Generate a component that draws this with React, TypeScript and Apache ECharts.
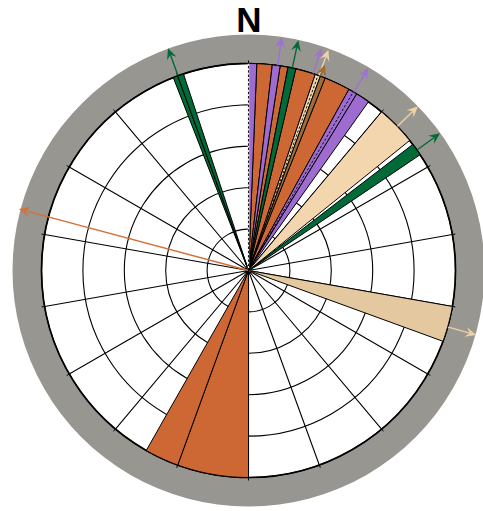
import React, { useEffect, useRef } from 'react';
import * as echarts from 'echarts';

// ---- data (bearings in degrees, clockwise from N) ----
const radiusMax = 5; // rings 1..5
const spokeStep = 20;

const orangeWedges = [[2.3, 6.6], [8.8, 11.0], [13.2, 18.8], [21.7, 29.0], [180, 200], [200, 209.6]];
const purpleWedges = [[0, 2.3], [6.6, 8.8], [29.0, 31.5], [31.5, 35.4]];
const greenWedges = [[11.0, 13.2], [52.5, 56.0], [338.7, 340], [340, 341.7]];
const lightTanWedges = [[18.8, 20.3], [40, 51.1]];
const brownWedges = [[20.3, 21.7]];
const wheatWedges = [[100, 110]];

const dashedDirs = [0, 19.6, 30.4];

const arrowDirs = [285, 8.1, 18.2, 30.6, 340.1, 12.2, 54.4, 19.9, 45.9, 105.8, 20.4];
const arrowLens = [5.74, 5.7, 5.66, 5.68, 5.71, 5.69, 5.69, 5.67, 5.7, 5.72, 5.3];
const arrowSets = ['orange', 'purple', 'purple', 'purple', 'green', 'green', 'green', 'lightTan', 'lightTan', 'wheat', 'brown'];

// ---- styles ----
const palette: Record<string, string> = {
  orange: '#CD6834',
  purple: '#9E6CD0',
  green: '#006B38',
  lightTan: '#F3D6AE',
  brown: '#A06C38',
  wheat: '#E4C89F',
};
const arrowPalette: Record<string, string> = {
  orange: '#D4703C',
  purple: '#9E72D2',
  green: '#006B38',
  lightTan: '#F0D2A6',
  brown: '#A06A34',
  wheat: '#EAD0A8',
};

const CX = 248.5;
const CY = 270.5;
const R = 207;

const wedgeRender = (params: any, api: any) => {
  const r = api.value(0);
  const a0 = api.value(1);
  const a1 = api.value(2);
  const c = api.coord([0, a0]);
  const pts: number[][] = [c];
  const n = Math.max(2, Math.ceil((a1 - a0) / 0.4));
  for (let i = 0; i <= n; i++) {
    pts.push(api.coord([r, a0 + ((a1 - a0) * i) / n]));
  }
  return {
    type: 'polygon',
    shape: { points: pts },
    style: { fill: api.visual('color'), stroke: '#000', lineWidth: 1, lineJoin: 'round' },
  };
};

const arrowRender = (params: any, api: any) => {
  const len = api.value(0);
  const dir = api.value(1);
  const color = arrowPalette[arrowSets[params.dataIndex]];
  const p0 = api.coord([0, dir]);
  const p1 = api.coord([len, dir]);
  const dx = p1[0] - p0[0];
  const dy = p1[1] - p0[1];
  const d = Math.sqrt(dx * dx + dy * dy) || 1;
  const ux = dx / d;
  const uy = dy / d;
  const nx = -uy;
  const ny = ux;
  const headL = 11;
  const headW = 5;
  const notch = 7;
  const bx = p1[0] - ux * headL;
  const by = p1[1] - uy * headL;
  const mx = p1[0] - ux * notch;
  const my = p1[1] - uy * notch;
  return {
    type: 'group',
    children: [
      {
        type: 'line',
        shape: { x1: p0[0], y1: p0[1], x2: mx, y2: my },
        style: { stroke: color, lineWidth: 1.4 },
      },
      {
        type: 'polygon',
        shape: {
          points: [
            [p1[0], p1[1]],
            [bx + nx * headW, by + ny * headW],
            [mx, my],
            [bx - nx * headW, by - ny * headW],
          ],
        },
        style: { fill: color },
      },
    ],
  };
};

const dashRender = (params: any, api: any) => {
  const r = api.value(0);
  const dir = api.value(1);
  const p0 = api.coord([0, dir]);
  const p1 = api.coord([r, dir]);
  return {
    type: 'group',
    children: [
      {
        type: 'line',
        shape: { x1: p0[0], y1: p0[1], x2: p1[0], y2: p1[1] },
        style: { stroke: dir === 0 ? '#fff' : 'rgba(0,0,0,0)', lineWidth: 1.4 },
      },
      {
        type: 'line',
        shape: { x1: p0[0], y1: p0[1], x2: p1[0], y2: p1[1] },
        style: { stroke: '#000', lineWidth: 0.9, lineDash: [2.5, 1.8] },
      },
    ],
  };
};

const wedgeSeries = (name: string, wedges: number[][]) => ({
  type: 'custom',
  name,
  coordinateSystem: 'polar',
  renderItem: wedgeRender,
  clip: false,
  silent: true,
  z: 3,
  itemStyle: { color: palette[name] },
  data: wedges.map((w) => [radiusMax, w[0], w[1]]),
});

export default function App() {
  const ref = useRef<HTMLDivElement>(null);
  useEffect(() => {
    if (!ref.current) return;
    const chart = echarts.init(ref.current, null, { renderer: 'svg' });
    chart.setOption({
      animation: false,
      backgroundColor: '#fff',
      polar: { center: [CX, CY], radius: R },
      angleAxis: {
        type: 'value',
        min: 0,
        max: 360,
        interval: spokeStep,
        startAngle: 90,
        clockwise: true,
        axisLine: { show: true, lineStyle: { color: '#000', width: 1.7 } },
        axisTick: { show: true, length: 3, lineStyle: { color: '#000', width: 1 } },
        axisLabel: { show: false },
        splitLine: { show: true, lineStyle: { color: '#000', width: 1.1 } },
      },
      radiusAxis: {
        type: 'value',
        min: 0,
        max: radiusMax,
        interval: 1,
        axisLine: { show: false },
        axisTick: { show: false },
        axisLabel: { show: false },
        splitLine: { show: true, lineStyle: { color: '#000', width: 1.1 } },
      },
      graphic: [
        {
          type: 'text',
          x: 249,
          y: 19.5,
          z: 10,
          style: {
            text: 'N',
            fill: '#000',
            font: 'bold 35px "Liberation Sans", Arial, sans-serif',
            textAlign: 'center',
            textVerticalAlign: 'middle',
          },
        },
      ],
      series: [
        {
          type: 'pie',
          center: [CX, CY],
          radius: [R, 236],
          silent: true,
          z: -1,
          label: { show: false },
          labelLine: { show: false },
          emphasis: { disabled: true },
          itemStyle: { color: '#979690', borderWidth: 0 },
          data: [{ value: 1 }],
        },
        {
          type: 'custom',
          name: 'arrows',
          coordinateSystem: 'polar',
          renderItem: arrowRender,
          clip: false,
          silent: true,
          z: 2,
          data: arrowDirs.map((d, i) => [arrowLens[i], d]),
        },
        wedgeSeries('orange', orangeWedges),
        wedgeSeries('purple', purpleWedges),
        wedgeSeries('green', greenWedges),
        wedgeSeries('lightTan', lightTanWedges),
        wedgeSeries('brown', brownWedges),
        wedgeSeries('wheat', wheatWedges),
        {
          type: 'custom',
          name: 'dashed',
          coordinateSystem: 'polar',
          renderItem: dashRender,
          clip: false,
          silent: true,
          z: 4,
          data: dashedDirs.map((d) => [radiusMax, d]),
        },
      ],
    });
    return () => chart.dispose();
  }, []);
  return (
    <div
      ref={ref}
      style={{ position: 'fixed', left: 0, top: 0, width: 483, height: 511 }}
    />
  );
}
